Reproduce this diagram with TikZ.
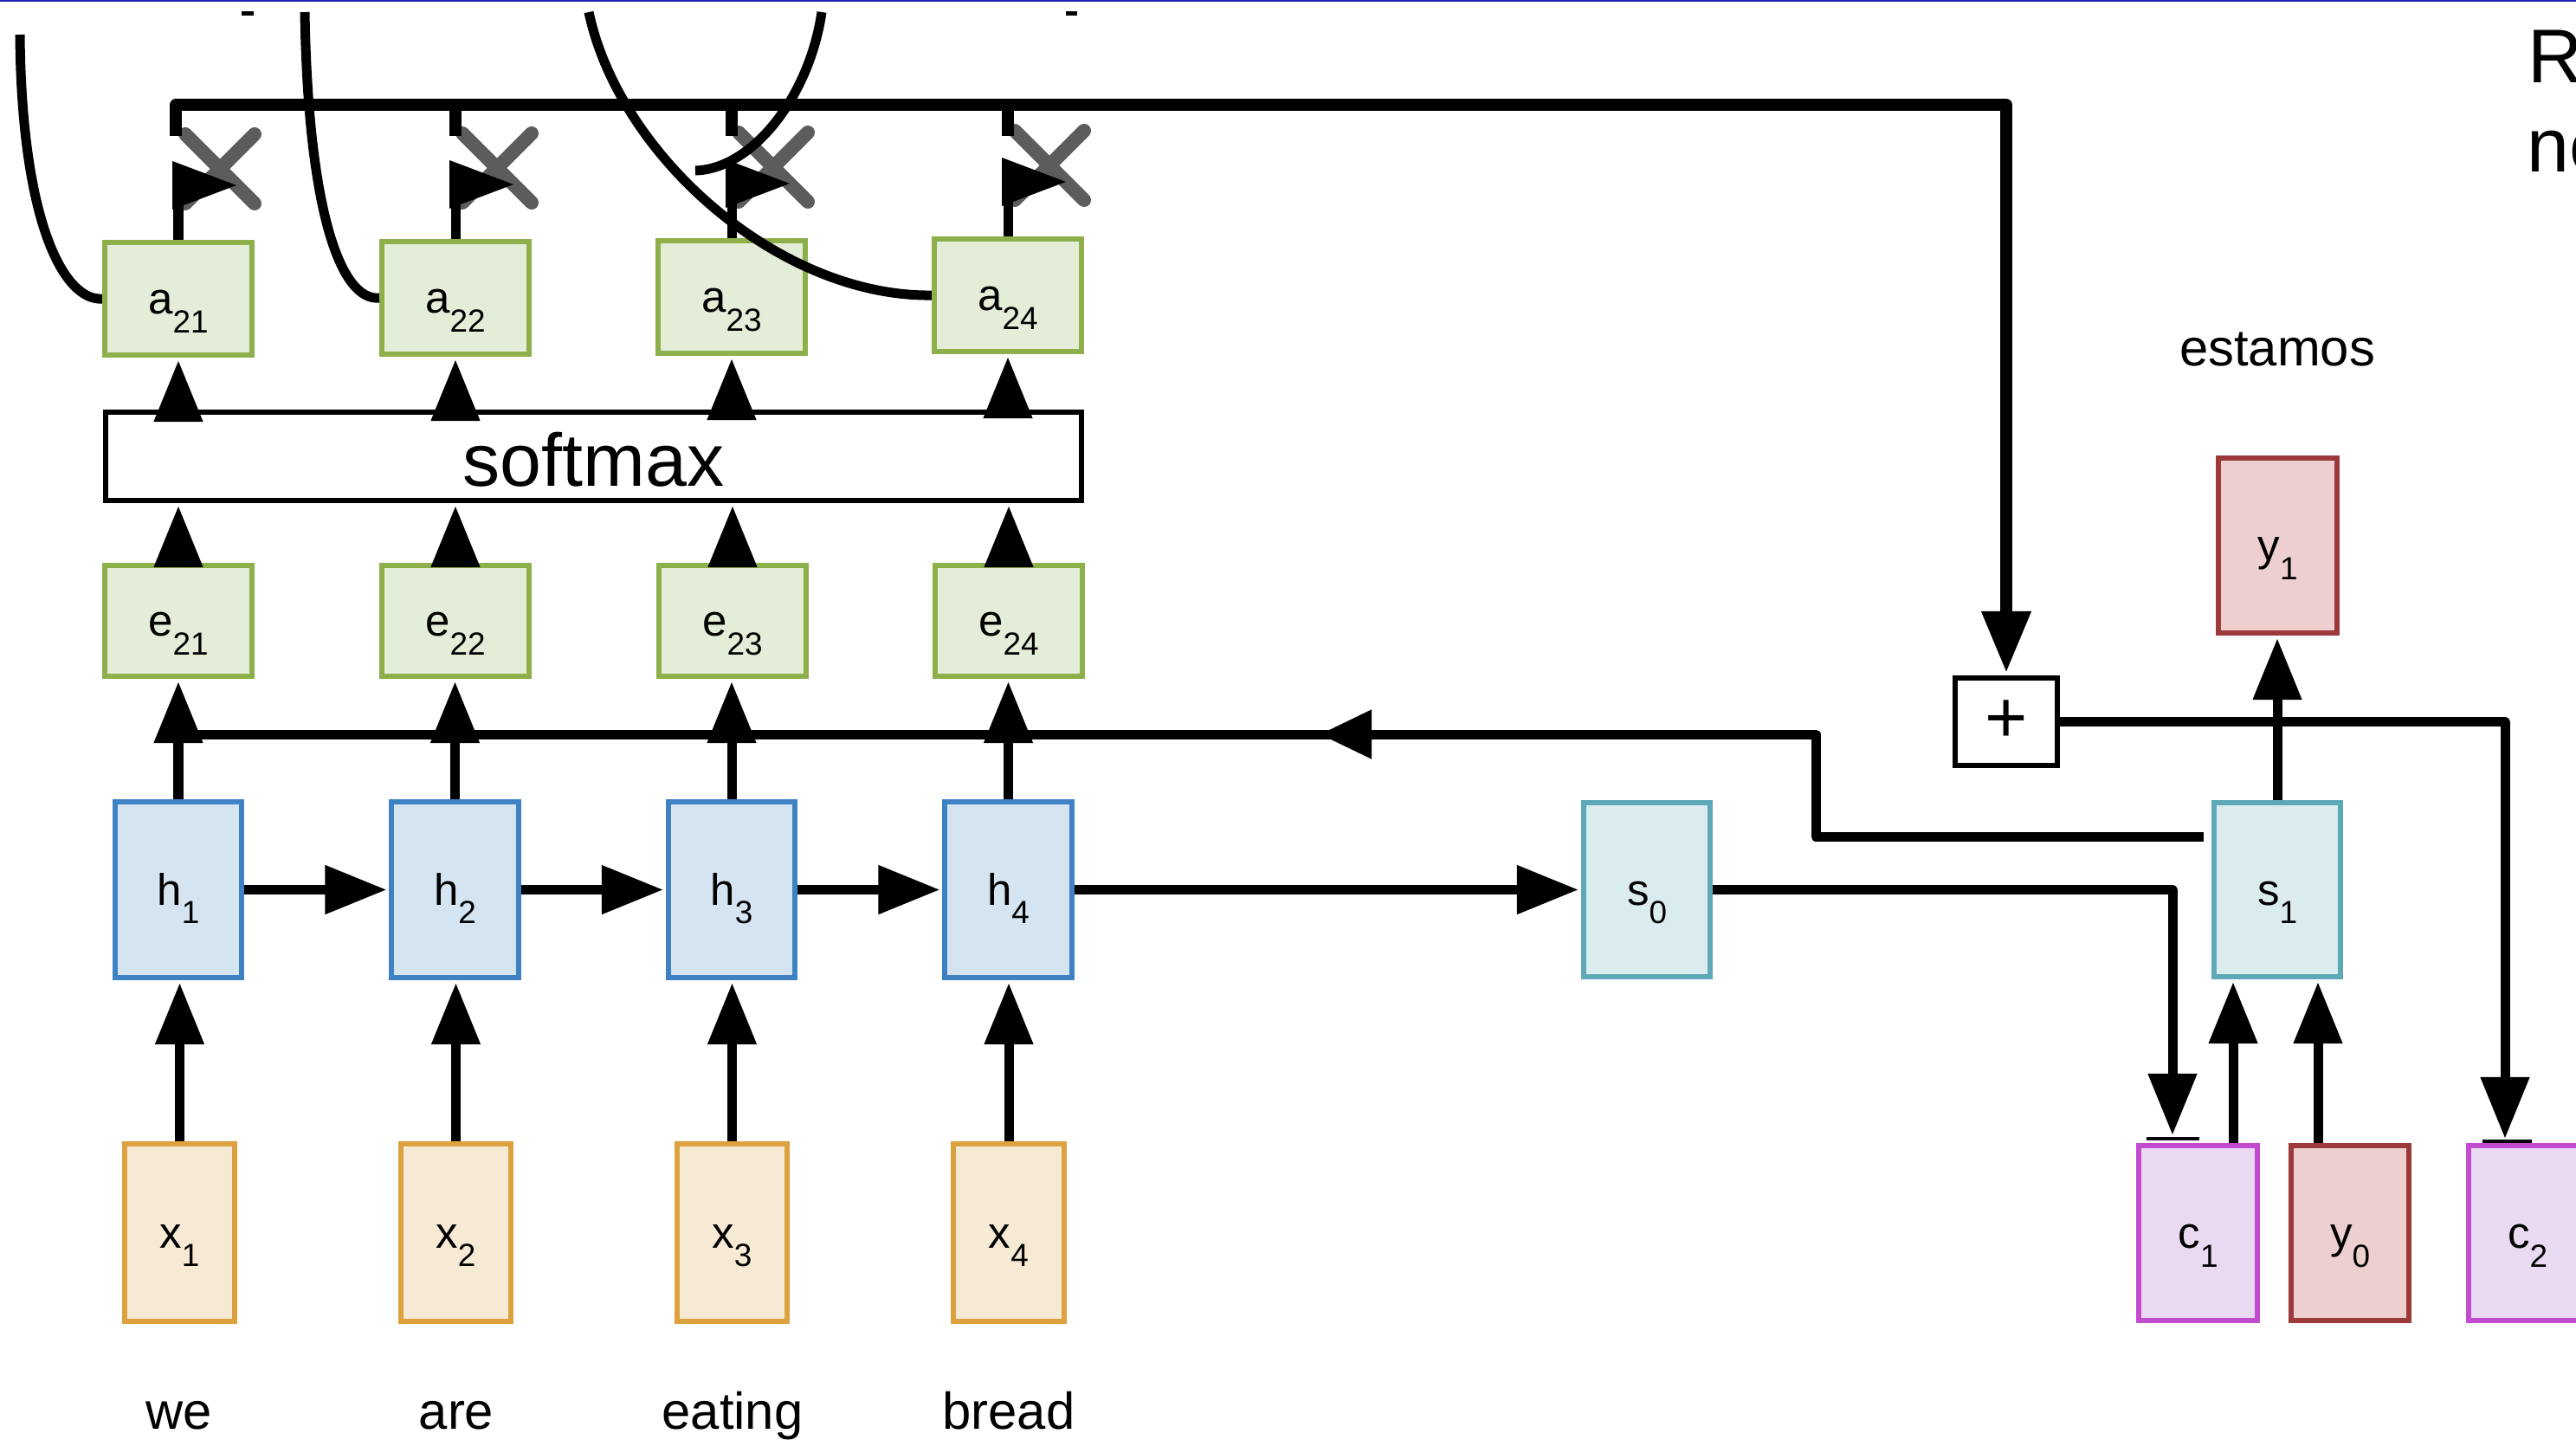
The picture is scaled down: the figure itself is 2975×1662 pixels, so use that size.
\documentclass[tikz,border=0pt]{standalone}
\usepackage{fontspec}
\setmainfont{Liberation Sans}
\usetikzlibrary{arrows.meta}
\definecolor{gF}{HTML}{E4EDD7}
\definecolor{gD}{HTML}{8DB04B}
\definecolor{bF}{HTML}{D5E4F1}
\definecolor{bD}{HTML}{3E82C4}
\definecolor{oF}{HTML}{F6EAD5}
\definecolor{oD}{HTML}{DDA23F}
\definecolor{tF}{HTML}{DBECEF}
\definecolor{tD}{HTML}{5EA9B7}
\definecolor{pF}{HTML}{E9DAF2}
\definecolor{pD}{HTML}{C24BCF}
\definecolor{rF}{HTML}{EDCFD0}
\definecolor{rD}{HTML}{9C3A3B}
\definecolor{xG}{HTML}{5C5C5C}
\definecolor{topB}{HTML}{2222BB}
\newcommand\lbl[2]{#1\raisebox{-6pt}{\fontsize{10.5}{10.5}\selectfont #2}}
\begin{document}
\begin{tikzpicture}[x=0.01cm,y=-0.01cm,
  conn/.style={line width=0.11cm, line join=round},
  arr/.style={conn, -{Triangle[length=0.71cm,width=0.54cm]}, shorten >=0.03cm},
  topline/.style={line width=0.135cm, line join=round},
  cv/.style={line width=0.11cm},
  xmark/.style={xG, line width=0.16cm, line cap=round},
  nb/.style={draw, line width=0.06cm, inner sep=0pt, text height=10.2pt, text depth=0pt, font=\fontsize{14.5}{14.5}\selectfont},
  gbox/.style={nb, fill=gF, draw=gD, minimum width=1.70cm, minimum height=1.30cm},
  ebox/.style={nb, fill=gF, draw=gD, minimum width=1.70cm, minimum height=1.28cm},
  hbox/.style={nb, fill=bF, draw=bD, minimum width=1.46cm, minimum height=2.03cm},
  xbox/.style={nb, fill=oF, draw=oD, minimum width=1.27cm, minimum height=2.05cm},
  sbox/.style={nb, fill=tF, draw=tD, minimum width=1.46cm, minimum height=2.01cm},
  ybox/.style={nb, fill=rF, draw=rD, minimum width=1.36cm, minimum height=2.02cm},
  cbox/.style={nb, fill=pF, draw=pD, minimum width=1.36cm, minimum height=2.02cm},
  word/.style={inner sep=0pt, anchor=base, font=\fontsize{17}{17}\selectfont},
  bigtext/.style={inner sep=0pt, anchor=base west, font=\fontsize{25}{25}\selectfont}
]
\clip (0,0) rectangle (2975,1662);
\fill[white] (0,0) rectangle (2975,1662);
\draw[topB, line width=0.025cm] (0,1) -- (2975,1);
\fill (279,13) rectangle (293,18);
\fill (1231,13) rectangle (1244,18);

% attention weights
\node[gbox] (a1) at (206,345) {\lbl{a}{21}};
\node[gbox] (a2) at (526,344) {\lbl{a}{22}};
\node[gbox] (a3) at (845,343) {\lbl{a}{23}};
\node[gbox] (a4) at (1164,341) {\lbl{a}{24}};
% softmax
\node[draw, line width=0.06cm, inner sep=0pt, minimum width=11.27cm, minimum height=1.02cm,
      font=\fontsize{24.5}{24.5}\selectfont, text height=19.35pt, text depth=0pt] (sm) at (685.5,527) {softmax};
% scores
\node[ebox] (e1) at (206,717) {\lbl{e}{21}};
\node[ebox] (e2) at (526,717) {\lbl{e}{22}};
\node[ebox] (e3) at (846,717) {\lbl{e}{23}};
\node[ebox] (e4) at (1165,717) {\lbl{e}{24}};
% encoder
\node[hbox] (h1) at (206,1027.5) {\lbl{h}{1}};
\node[hbox] (h2) at (525.5,1027.5) {\lbl{h}{2}};
\node[hbox] (h3) at (845,1027.5) {\lbl{h}{3}};
\node[hbox] (h4) at (1164.5,1027.5) {\lbl{h}{4}};
\node[xbox] (x1) at (207.5,1423.5) {\lbl{x}{1}};
\node[xbox] (x2) at (526.5,1423.5) {\lbl{x}{2}};
\node[xbox] (x3) at (845.5,1423.5) {\lbl{x}{3}};
\node[xbox] (x4) at (1165,1423.5) {\lbl{x}{4}};
\node[word] (w1) at (207,1650) {we};
\node[word] (w2) at (527,1650) {are};
\node[word] (w3) at (846,1650) {eating};
\node[word] (w4) at (1165,1650) {bread};
% decoder
\node[sbox] (s0) at (1902,1027.5) {\lbl{s}{0}};
\node[sbox] (s1) at (2630,1027.5) {\lbl{s}{1}};
\node[ybox] (y1) at (2630.5,630) {\lbl{y}{1}};
\node[cbox] (c1) at (2538.5,1424) {\lbl{c}{1}};
\node[ybox] (y0) at (2714,1424) {\lbl{y}{0}};
\node[cbox] (c2) at (2919,1424) {\lbl{c}{2}};
\node[draw, line width=0.06cm, inner sep=0pt, minimum width=1.18cm, minimum height=1.01cm,
      font=\fontsize{24}{24}\selectfont] (plus) at (2317,833.5) {+};
\node[word] (est) at (2630,422) {estamos};
\node[bigtext] (r1) at (2919,95) {R};
\node[bigtext] (r2) at (2918,198) {ne};

% vertical arrows in the encoder columns
\foreach \i in {1,2,3,4}{
  \draw[arr] (x\i.north) -- (x\i.north |- h\i.south);
  \draw[arr] (h\i.north) -- (h\i.north |- e\i.south);
  \draw[arr] (e\i.north) -- (e\i.north |- sm.south);
  \draw[arr] (a\i.south |- sm.north) -- (a\i.south);
}
% horizontal encoder chain
\draw[arr] (h1.east) -- (h2.west);
\draw[arr] (h2.east) -- (h3.west);
\draw[arr] (h3.east) -- (h4.west);
\draw[arr] (h4.east) -- (s0.west);

% X marks and arrow flags above the attention weights
\foreach \n in {a1,a2,a3,a4}{
  \draw[xmark] ([shift={(8,-122)}]\n.north) -- ([shift={(88,-42)}]\n.north);
  \draw[xmark] ([shift={(88,-122)}]\n.north) -- ([shift={(8,-42)}]\n.north);
  \draw[conn] (\n.north) -- ([shift={(0,-40)}]\n.north);
  \fill ([shift={(-7,-35)}]\n.north) -- ([shift={(-7,-91)}]\n.north) -- ([shift={(67,-63)}]\n.north) -- cycle;
}

% top collecting line into the sum
\coordinate (tl) at (203,121);
\draw[arr, topline] ([shift={(0,36)}]tl) -- (tl) -- (tl -| plus) -- (plus.north);
\draw[topline] (a2.north |- tl) -- ([shift={(0,36)}]a2.north |- tl);
\draw[topline] (a3.north |- tl) -- ([shift={(0,36)}]a3.north |- tl);
\draw[topline] (a4.north |- tl) -- ([shift={(0,36)}]a4.north |- tl);

% decoder connections
\draw[arr, shorten >=0.09cm] (s0.east) -| ([xshift=-0.295cm]c1.north);
\draw[line width=0.04cm] (2479,1315) -- (2540,1315);
\draw[arr] ([xshift=0.405cm]c1.north) -- ([xshift=0.405cm]c1.north |- s1.south);
\draw[arr] ([xshift=-0.37cm]y0.north) -- ([xshift=-0.37cm]y0.north |- s1.south);
\draw[arr] (s1.north) -- (s1.north |- y1.south);
\draw[arr, shorten >=0.05cm] (plus.east) -| ([xshift=-0.26cm]c2.north);
\draw[line width=0.035cm] (2867,1318) -- (2924,1318);

% feedback line from s1 to the score row
\coordinate (bl) at (206,848);
\coordinate (bk) at (2097,966);
\draw[conn] ([shift={(-9,-61.5)}]s1.west) -- (bk) -- (bk |- bl) -- (bl);
\coordinate (mb) at (1590,848);
\coordinate (mt) at (1524,848);
\draw[conn, -{Triangle[length=0.6cm,width=0.54cm]}] (mb) -- (mt);

% curves
\coordinate (k1) at (23,40);
\coordinate (k2) at (352,14);
\coordinate (k3) at (680,14);
\coordinate (k4) at (949,14);
\coordinate (k5) at (803,197);
\draw[cv] (k1) .. controls (25,260) and (75,348) .. (a1.west);
\draw[cv] (k2) .. controls (356,250) and (395,348) .. (a2.west);
\draw[cv] (k3) .. controls (715,180) and (900,343) .. (a4.west);
\draw[cv] (k4) .. controls (935,110) and (870,195) .. (k5);
\end{tikzpicture}
\end{document}
